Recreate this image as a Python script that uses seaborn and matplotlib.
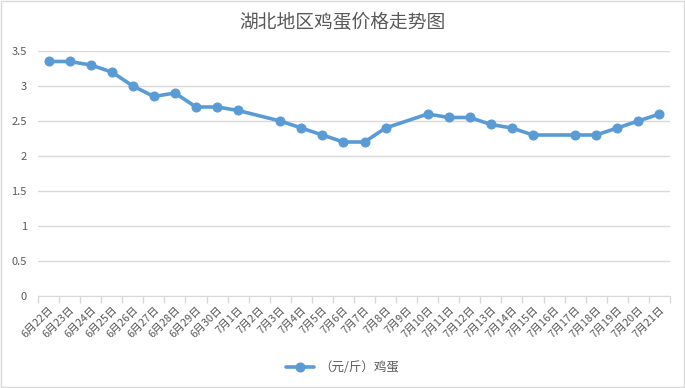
import matplotlib
matplotlib.use('Agg')

import numpy as np
import pandas as pd
import matplotlib.pyplot as plt
import seaborn as sns
from matplotlib.ticker import FuncFormatter, FixedLocator

# 日期与价格（缺失日为 NaN，折线直接连过去）
dates = ['6月22日', '6月23日', '6月24日', '6月25日', '6月26日', '6月27日', '6月28日',
         '6月29日', '6月30日', '7月1日', '7月2日', '7月3日', '7月4日', '7月5日',
         '7月6日', '7月7日', '7月8日', '7月9日', '7月10日', '7月11日', '7月12日',
         '7月13日', '7月14日', '7月15日', '7月16日', '7月17日', '7月18日', '7月19日',
         '7月20日', '7月21日']
prices = [3.35, 3.35, 3.3, 3.2, 3.0, 2.85, 2.9, 2.7, 2.7, 2.65, np.nan, 2.5, 2.4, 2.3,
          2.2, 2.2, 2.4, np.nan, 2.6, 2.55, 2.55, 2.45, 2.4, 2.3, np.nan, 2.3, 2.3, 2.4,
          2.5, 2.6]
series_name = '（元/斤）鸡蛋'
title = '湖北地区鸡蛋价格走势图'

sns.set_style('white')
plt.rcParams['font.family'] = ['Noto Sans CJK SC', 'DejaVu Sans']

grey_txt = '#595959'
grid_col = '#d9d9d9'
blue = '#5b9bd5'

df = pd.DataFrame({'pos': np.arange(len(dates)), 'price': prices}).dropna()

fig = plt.figure(figsize=(6.85, 3.88), dpi=100)
ax = fig.add_axes([0.0555, 0.2371, 0.9225, 0.6315])

sns.lineplot(data=df, x='pos', y='price', ax=ax, color=blue, linewidth=2.6,
             marker='o', markersize=6.5, markeredgecolor=blue, label=series_name,
             legend=False)

ax.set_xlim(-0.5, len(dates) - 0.5)
ax.set_ylim(0, 3.5)
ax.set_yticks(np.arange(0, 3.51, 0.5))
ax.yaxis.set_major_formatter(FuncFormatter(lambda v, p: f'{v:g}'))
ax.yaxis.grid(True, color=grid_col, linewidth=1)
ax.xaxis.grid(False)

ax.set_xticks(np.arange(len(dates)))
ax.set_xticklabels(dates, rotation=45, ha='right', rotation_mode='anchor',
                   fontsize=7.8, color=grey_txt)
ax.xaxis.set_minor_locator(FixedLocator(np.arange(-0.5, len(dates), 1)))
ax.tick_params(axis='x', which='major', length=0, pad=6)
ax.tick_params(axis='x', which='minor', length=5, color=grid_col, width=1, bottom=True)
ax.tick_params(axis='y', length=0, labelsize=8, labelcolor=grey_txt, pad=8)

for s in ['top', 'right', 'left']:
    ax.spines[s].set_visible(False)
ax.spines['bottom'].set_color(grid_col)
ax.set_xlabel('')
ax.set_ylabel('')

fig.suptitle(title, y=0.97, fontsize=13.5, color=grey_txt)

handles, labels = ax.get_legend_handles_labels()
fig.legend(handles, labels, loc='center', bbox_to_anchor=(0.5, 0.053), frameon=False,
           fontsize=9, labelcolor=grey_txt, handlelength=2.2, handletextpad=0.4)

# 图表外框
fig.patches.append(plt.Rectangle((0.002, 0.003), 0.996, 0.994, transform=fig.transFigure,
                                 fill=False, edgecolor=grid_col, linewidth=1))

fig.savefig('out.png', dpi=100)
